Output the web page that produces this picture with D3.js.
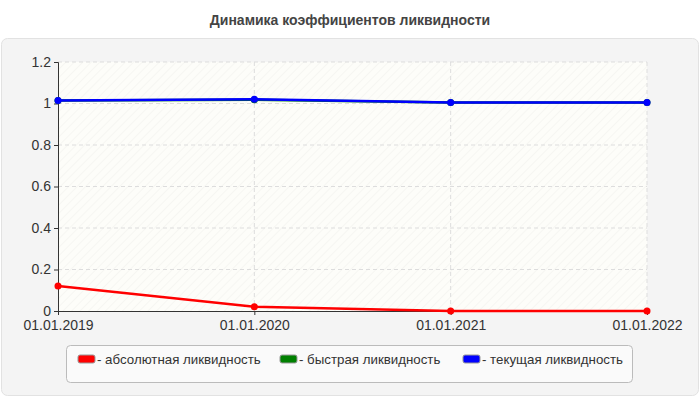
<!DOCTYPE html><html><head><meta charset="utf-8"><script src="https://cdn.jsdelivr.net/npm/d3@7"></script>
<style>body{margin:0;background:#fff;font-family:Arial,"Liberation Sans",sans-serif}</style></head><body><svg id="c" width="700" height="400"></svg>
<script>
const categories=["01.01.2019","01.01.2020","01.01.2021","01.01.2022"];
const absolute=[0.12,0.02,0.0,0.0];
const quick=[1.015,1.018,1.005,1.005];
const current=[1.015,1.02,1.005,1.005];
const yTicks=[0,0.2,0.4,0.6,0.8,1,1.2];
const seriesNames=["- абсолютная ликвидность","- быстрая ликвидность","- текущая ликвидность"];
const colors=["#ff0000","#008000","#0000ff"];
const svg=d3.select("#c");
const defs=svg.append("defs");
const p=defs.append("pattern").attr("id","h").attr("width",6).attr("height",6).attr("patternUnits","userSpaceOnUse").attr("patternTransform","rotate(45)");
p.append("rect").attr("width",6).attr("height",6).attr("fill","#fdfdf9");
p.append("line").attr("x1",0).attr("y1",0).attr("x2",0).attr("y2",6).attr("stroke","#f0f0ec").attr("stroke-width",1);
svg.append("text").attr("x",350).attr("y",25).attr("text-anchor","middle").attr("font-size",14).attr("font-weight","bold").attr("fill","#444").text("Динамика коэффициентов ликвидности");
svg.append("rect").attr("x",1.5).attr("y",38.5).attr("width",697).attr("height",357).attr("rx",6).attr("fill","#f4f4f4").attr("stroke","#e2e2e2");
const x=d3.scalePoint().domain(categories).range([58,647]);
const y=d3.scaleLinear().domain([0,1.2]).range([311,62]);
svg.append("rect").attr("x",58).attr("y",62).attr("width",589).attr("height",249).attr("fill","url(#h)");
const g=svg.append("g");
g.selectAll(".gy").data(yTicks.slice(1)).join("line").attr("x1",58).attr("x2",647).attr("y1",d=>y(d)).attr("y2",d=>y(d)).attr("stroke","#ddd").attr("stroke-dasharray","4,3");
g.selectAll(".gx").data(categories.slice(1)).join("line").attr("x1",d=>x(d)).attr("x2",d=>x(d)).attr("y1",62).attr("y2",311).attr("stroke","#ddd").attr("stroke-dasharray","4,3");
const ya=svg.append("g").attr("transform","translate(58,0)").call(d3.axisLeft(y).tickValues(yTicks).tickFormat(d=>String(d)).tickSize(4));
const xa=svg.append("g").attr("transform","translate(0,311)").call(d3.axisBottom(x).tickSize(4));
[ya,xa].forEach(a=>{a.selectAll("text").attr("font-size",14).attr("fill","#333").attr("font-family","Arial,Liberation Sans");a.selectAll("line,path").attr("stroke","#333");});
xa.selectAll("text").attr("dy","0.85em");
const line=d3.line().x((d,i)=>x(categories[i])).y(d=>y(d));
[absolute,quick,current].forEach((s,k)=>{
 svg.append("path").attr("d",line(s)).attr("fill","none").attr("stroke",colors[k]).attr("stroke-width",2.5);
 svg.selectAll(null).data(s).join("circle").attr("cx",(d,i)=>x(categories[i])).attr("cy",d=>y(d)).attr("r",3.5).attr("fill",colors[k]);
});
svg.append("rect").attr("x",66.5).attr("y",345.5).attr("width",566).attr("height",37).attr("rx",4).attr("fill","#fafafa").attr("stroke","#bbb");
const lx=[78,280,463];
seriesNames.forEach((n,k)=>{
 svg.append("rect").attr("x",lx[k]).attr("y",355).attr("width",17).attr("height",8).attr("rx",2).attr("fill",colors[k]).attr("stroke","#999");
 svg.append("text").attr("x",lx[k]+19).attr("y",364).attr("font-size",13.3).attr("fill","#333").text(n);
});
</script></body></html>
